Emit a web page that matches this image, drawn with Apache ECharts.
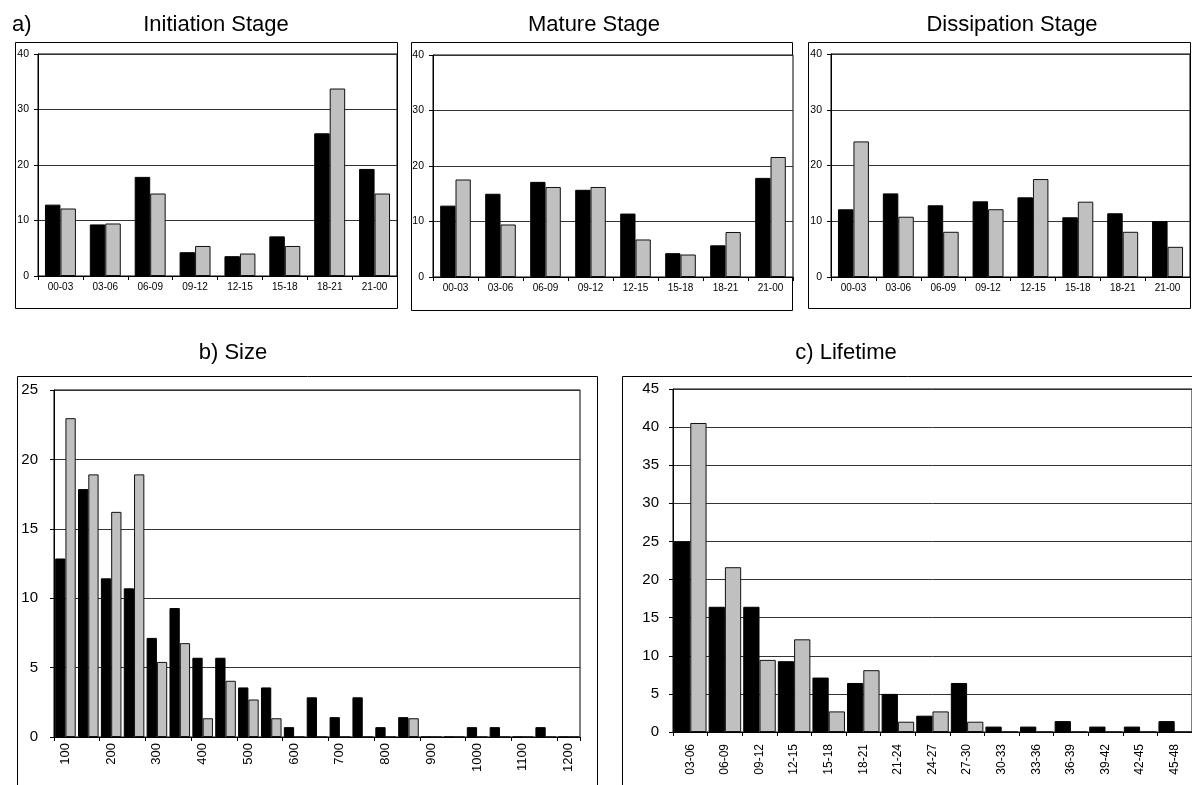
<!DOCTYPE html>
<html><head><meta charset="utf-8">
<script src="https://cdn.jsdelivr.net/npm/echarts@6/dist/echarts.min.js"></script>
<style>html,body{margin:0;padding:0;background:#fff}#c{width:1192px;height:785px}</style>
</head><body><div id="c"></div>
<script>
// ---- data ----
const hourCats = ['00-03','03-06','06-09','09-12','12-15','15-18','18-21','21-00'];
const initiationBlack = [12.86, 9.29, 17.86, 4.29, 3.57, 7.14, 25.71, 19.29];
const initiationGrey  = [12.16, 9.46, 14.86, 5.41, 4.05, 5.41, 33.78, 14.86];
const matureBlack = [12.86, 15.00, 17.14, 15.71, 11.43, 4.29, 5.71, 17.86];
const matureGrey  = [17.57, 9.46, 16.22, 16.22, 6.76, 4.05, 8.11, 21.62];
const dissipationBlack = [12.14, 15.00, 12.86, 13.57, 14.29, 10.71, 11.43, 10.00];
const dissipationGrey  = [24.32, 10.81, 8.11, 12.16, 17.57, 13.51, 8.11, 5.41];

const sizeCats = ['100','150','200','250','300','350','400','450','500','550','600','650',
                  '700','750','800','850','900','950','1000','1050','1100','1150','1200'];
const sizeBlack = [12.86, 17.86, 11.43, 10.71, 7.14, 9.29, 5.71, 5.71, 3.57, 3.57, 0.71, 2.86,
                   1.43, 2.86, 0.71, 1.43, 0, 0, 0.71, 0.71, 0, 0.71, 0];
const sizeGrey  = [22.97, 18.92, 16.22, 18.92, 5.41, 6.76, 1.35, 4.05, 2.70, 1.35, 0, 0,
                   0, 0, 0, 1.35, 0, 0, 0, 0, 0, 0, 0];

const lifeCats = ['03-06','06-09','09-12','12-15','15-18','18-21','21-24','24-27','27-30',
                  '30-33','33-36','36-39','39-42','42-45','45-48'];
const lifeBlack = [25.00, 16.43, 16.43, 9.29, 7.14, 6.43, 5.00, 2.14, 6.43, 0.71, 0.71, 1.43, 0.71, 0.71, 1.43];
const lifeGrey  = [40.54, 21.62, 9.46, 12.16, 2.70, 8.11, 1.35, 2.70, 1.35, 0, 0, 0, 0, 0, 0];

const stageTitles = ['Initiation Stage', 'Mature Stage', 'Dissipation Stage'];
const yTopTicks = {min: 0, max: 40, interval: 10};
const ySizeTicks = {min: 0, max: 25, interval: 5};
const yLifeTicks = {min: 0, max: 45, interval: 5};

// ---- chart ----
const FONT = '"Liberation Sans", Arial, sans-serif';
const chart = echarts.init(document.getElementById('c'), null, {renderer: 'canvas'});

const grids = [
  {left: 38,  top: 54,  width: 359, height: 222},
  {left: 433, top: 55,  width: 360, height: 222},
  {left: 831, top: 54,  width: 359, height: 223},
  {left: 54,  top: 390, width: 526, height: 347},
  {left: 673, top: 389, width: 524, height: 343}
].map(g => Object.assign({show: true, borderColor: '#000', borderWidth: 1, backgroundColor: '#fff'}, g));

function xAx(i, data, lbl) {
  return {
    type: 'category', gridIndex: i, data: data,
    axisLine: {show: true, lineStyle: {color: '#000', width: 1}},
    axisTick: {show: true, length: 4, lineStyle: {color: '#000'}},
    axisLabel: Object.assign({color: '#000', fontFamily: FONT, interval: 0}, lbl),
    splitLine: {show: false}
  };
}
function yAx(i, ticks, lbl) {
  return Object.assign({
    type: 'value', gridIndex: i,
    axisLine: {show: true, lineStyle: {color: '#000', width: 1}},
    axisTick: {show: true, length: 4, lineStyle: {color: '#000'}},
    axisLabel: Object.assign({color: '#000', fontFamily: FONT}, lbl),
    splitLine: {show: true, lineStyle: {color: '#333', width: 1}}
  }, ticks);
}
function bars(i, blk, gry, gap) {
  const common = {type: 'bar', xAxisIndex: i, yAxisIndex: i, barGap: '0%', barCategoryGap: gap, animation: false};
  return [
    Object.assign({data: blk, itemStyle: {color: '#000', borderColor: '#000', borderWidth: 1}}, common),
    Object.assign({data: gry, itemStyle: {color: '#c0c0c0', borderColor: '#111', borderWidth: 1}}, common)
  ];
}

const topLbl = {fontSize: 10, margin: 6};
const topY = {fontSize: 10.5, margin: 9};

const frames = [
  [15.5, 42.5, 382, 266],
  [411.5, 42.5, 381, 268],
  [808.5, 42.5, 382, 266],
  [17.5, 376.5, 580, 440],
  [622.5, 376.5, 600, 440]
];

function txt(t, x, y, size, align) {
  return {type: 'text', x: x, y: y, z: 100,
    style: {text: t, fill: '#000', font: size + 'px ' + FONT,
      textAlign: align, align: align, textVerticalAlign: 'middle', verticalAlign: 'middle'}};
}

const graphic = frames.map(f => ({type: 'rect', z: -10, silent: true,
  shape: {x: f[0], y: f[1], width: f[2], height: f[3]},
  style: {fill: 'none', stroke: '#000', lineWidth: 1}}))
  .concat([
    txt('a)', 12, 25, 22, 'left'),
    txt(stageTitles[0], 216, 25, 22, 'center'),
    txt(stageTitles[1], 594, 25, 22, 'center'),
    txt(stageTitles[2], 1012, 25, 22, 'center'),
    txt('b) Size', 233, 353, 22, 'center'),
    txt('c) Lifetime', 846, 353, 22, 'center')
  ]);

const option = {
  animation: false,
  backgroundColor: '#fff',
  grid: grids,
  graphic: graphic,
  xAxis: [
    xAx(0, hourCats, topLbl),
    xAx(1, hourCats, topLbl),
    xAx(2, hourCats, topLbl),
    xAx(3, sizeCats, {fontSize: 13, rotate: 90, interval: 1, margin: 6}),
    xAx(4, lifeCats, {fontSize: 12, rotate: 90, margin: 12})
  ],
  yAxis: [
    yAx(0, yTopTicks, topY),
    yAx(1, yTopTicks, topY),
    yAx(2, yTopTicks, topY),
    yAx(3, ySizeTicks, {fontSize: 15, margin: 16}),
    yAx(4, yLifeTicks, {fontSize: 15, margin: 14})
  ],
  series: [].concat(
    bars(0, initiationBlack, initiationGrey, '31%'),
    bars(1, matureBlack, matureGrey, '32%'),
    bars(2, dissipationBlack, dissipationGrey, '31%'),
    bars(3, sizeBlack, sizeGrey, '10%'),
    bars(4, lifeBlack, lifeGrey, '6%')
  )
};
chart.setOption(option);
</script>
</body></html>
